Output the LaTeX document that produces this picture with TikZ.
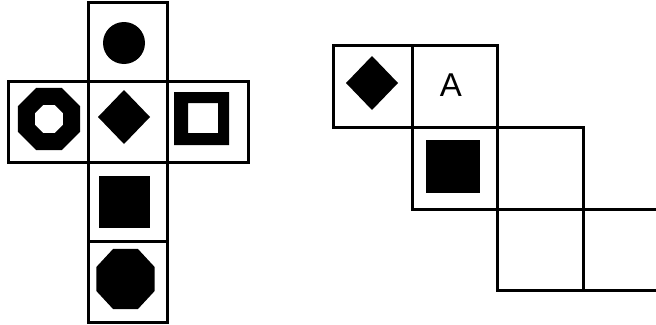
\documentclass[tikz,border=0pt]{standalone}
\usepackage{fontspec}
\setmainfont{Liberation Sans}
\begin{document}
\begin{tikzpicture}[x=1pt,y=-1pt,
  cell/.style={draw=black,line width=3pt,inner sep=0pt,outer sep=0pt},
  lbl/.style={inner sep=0pt,scale=3.3}]
\useasboundingbox (0,0) rectangle (656,324);
\clip (0,0) rectangle (656,324);
% ---------- left: cross net ----------
\node[cell,minimum width=79pt,minimum height=79pt] (top) at (127.5,41.5) {};
\node[cell,minimum width=79pt,minimum height=81pt] (mid) at (127.5,121.5) {};
\node[cell,minimum width=80pt,minimum height=81pt] (lft) at (48,121.5) {};
\node[cell,minimum width=81pt,minimum height=81pt] (rgt) at (207.5,121.5) {};
\node[cell,minimum width=79pt,minimum height=79pt] (low) at (127.5,201.5) {};
\node[cell,minimum width=79pt,minimum height=81pt] (bot) at (127.5,281.5) {};
% circle
\fill (124,43) circle (21);
% octagon ring
\fill[even odd rule] (49,119) +(22.5:33.6) -- +(67.5:33.6) -- +(112.5:33.6) -- +(157.5:33.6) -- +(202.5:33.6) -- +(247.5:33.6) -- +(292.5:33.6) -- +(337.5:33.6) -- cycle
  (49,119) +(22.5:15.2) -- +(67.5:15.2) -- +(112.5:15.2) -- +(157.5:15.2) -- +(202.5:15.2) -- +(247.5:15.2) -- +(292.5:15.2) -- +(337.5:15.2) -- cycle;
% diamond
\fill (124,117) +(-26,0) -- +(0,-27) -- +(26,0) -- +(0,27) -- cycle;
% square ring
\fill[even odd rule] (174,92) rectangle (229,145) (188,103) rectangle (218,133);
% filled square
\fill (99,176) rectangle (150,228);
% bottom octagon
\fill (125.5,279) +(22.5:31.5) -- +(67.5:32.5) -- +(112.5:32.5) -- +(157.5:31.5) -- +(202.5:31.5) -- +(247.5:32.5) -- +(292.5:32.5) -- +(337.5:31.5) -- cycle;
% ---------- right: staircase net ----------
\node[cell,minimum width=79pt,minimum height=82pt] (r1) at (372.5,86) {};
\node[cell,minimum width=85pt,minimum height=82pt] (r2) at (454.5,86) {};
\node[cell,minimum width=85pt,minimum height=82pt] (r3) at (454.5,168) {};
\node[cell,minimum width=86pt,minimum height=82pt] (r4) at (540,168) {};
\node[cell,minimum width=86pt,minimum height=81pt] (r5) at (540,249.5) {};
\node[cell,minimum width=90pt,minimum height=81pt] (r6) at (628,249.5) {};
% diamond
\fill (372,83) +(-26,0) -- +(0,-27) -- +(26,0) -- +(0,27) -- cycle;
% letter
\node[lbl] (a) at (451,85) {A};
% filled square
\fill (426,140) rectangle (480,193);
\end{tikzpicture}
\end{document}
